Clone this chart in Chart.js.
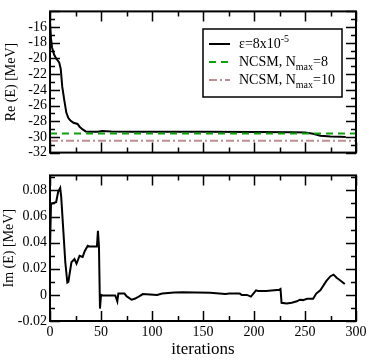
<!DOCTYPE html>
<html>
<head>
<meta charset="utf-8">
<script src="https://cdn.jsdelivr.net/npm/chart.js@4.4.1/dist/chart.umd.min.js"></script>
<style>
    body { margin: 0; background: #fff; }
    #wrap { position: relative; width: 371px; height: 361px; }
    canvas { position: absolute; left: 0; }
    #topChart { top: 0; }
    #botChart { top: 164px; }
</style>
</head>
<body>
<div id="wrap">
    <canvas id="topChart" width="371" height="164"></canvas>
    <canvas id="botChart" width="371" height="197"></canvas>
</div>
<script>
// Re(E) vs iterations, eps = 8x10^-5
const reIter = [0, 1, 2, 4, 6, 9, 10.5, 12, 14, 16, 18, 20, 23, 27, 29, 32, 35, 40, 47, 51, 60, 80, 100, 150, 200, 240, 250, 258, 265, 275, 285, 290];
const reVal = [-15.2, -17.5, -18.6, -19.5, -20.0, -20.5, -21.3, -23.6, -25.3, -26.9, -27.6, -27.9, -28.2, -28.35, -28.7, -29.05, -29.3, -29.35, -29.35, -29.25, -29.3, -29.35, -29.35, -29.35, -29.38, -29.4, -29.45, -29.6, -29.85, -29.95, -29.98, -30.0];

// NCSM reference energies
const ncsmX = [0, 300];
const ncsm8 = [-29.55, -29.55];
const ncsm10 = [-30.5, -30.5];

// Im(E) vs iterations
const imIter = [0, 1, 2, 6, 8, 10, 11, 13, 15, 17, 18, 21, 24, 26, 29, 32, 34, 37, 39, 46, 47, 48, 49, 50, 51, 64, 66, 67, 73, 75, 80, 83, 87, 91, 98, 105, 110, 122, 130, 157, 172, 176, 186, 188, 193, 197, 199, 202, 204, 212, 225, 226, 227, 232, 237, 242, 245, 248, 252, 258, 261, 265, 271, 275, 278, 281, 284, 289];
const imVal = [0.035, 0.07, 0.07, 0.071, 0.079, 0.082, 0.075, 0.05, 0.025, 0.0095, 0.01, 0.025, 0.0275, 0.024, 0.030, 0.029, 0.0335, 0.0376, 0.037, 0.037, 0.049, 0.037, -0.0105, 0.0, -0.0003, -0.0005, -0.005, 0.001, 0.001, -0.001, -0.0037, -0.003, -0.0013, 0.0006, 0.0003, 0.0, 0.001, 0.0018, 0.002, 0.0016, 0.0006, 0.001, 0.001, 0.0, 0.0, -0.0013, 0.0006, 0.0035, 0.003, 0.003, 0.004, 0.0045, -0.0061, -0.0066, -0.006, -0.0049, -0.0037, -0.004, -0.003, -0.003, 0.001, 0.0035, 0.0107, 0.0143, 0.0155, 0.0131, 0.0114, 0.0083];

// tick labels
const xTicks = [0, 50, 100, 150, 200, 250, 300];
const xLabels = ['0', '50', '100', '150', '200', '250', '300'];
const reTicks = [-32, -30, -28, -26, -24, -22, -20, -18, -16];
const reLabels = ['-32', '-30', '-28', '-26', '-24', '-22', '-20', '-18', '-16'];
const imTicks = [-0.02, 0, 0.02, 0.04, 0.06, 0.08];
const imLabels = ['-0.02', '0', '0.02', '0.04', '0.06', '0.08'];

const serif = "'Liberation Serif', 'Times New Roman', serif";
Chart.defaults.font.family = serif;
Chart.defaults.color = '#000';

const pts = (xs, ys) => xs.map((x, i) => ({ x: x, y: ys[i] }));

// frame + inward ticks on all four sides
const frameTicks = {
    id: 'frameTicks',
    afterDraw(chart, args, o) {
        const { ctx, chartArea: a, scales } = chart;
        ctx.save();
        ctx.strokeStyle = '#000';
        ctx.lineWidth = 1.5;
        ctx.beginPath();
        for (let k = 0; k <= o.xCount; k++) {
            const px = Math.round(scales.x.getPixelForValue(k * o.xStep)) + 0.5;
            const len = k % 2 === 0 ? 10 : 5;
            ctx.moveTo(px, a.bottom); ctx.lineTo(px, a.bottom - len);
            ctx.moveTo(px, a.top); ctx.lineTo(px, a.top + len);
        }
        for (let k = 0; k <= o.yCount; k++) {
            const py = Math.round(scales.y.getPixelForValue(o.yStart + k * o.yStep)) + 0.5;
            const len = k % 2 === 0 ? 10 : 5;
            ctx.moveTo(a.left, py); ctx.lineTo(a.left + len, py);
            ctx.moveTo(a.right, py); ctx.lineTo(a.right - len, py);
        }
        ctx.stroke();
        ctx.lineWidth = 2;
        ctx.strokeRect(a.left, a.top, a.right - a.left, a.bottom - a.top);
        ctx.restore();
    }
};

// legend with sub/superscripts
const legendBox = {
    id: 'legendBox',
    afterDraw(chart) {
        const ctx = chart.ctx;
        const x0 = 203, y0 = 29, w = 139, h = 68;
        ctx.save();
        ctx.fillStyle = '#fff';
        ctx.fillRect(x0, y0, w, h);
        ctx.strokeStyle = '#000';
        ctx.lineWidth = 1.5;
        ctx.strokeRect(x0, y0, w, h);
        const rows = [
            { y: 44, color: '#000', dash: [], parts: [['ε=8x10', 0], ['-5', -1]] },
            { y: 62, color: '#10a010', dash: [7, 5], parts: [['NCSM, N', 0], ['max', 1], ['=8', 0]] },
            { y: 80, color: '#bc8f8f', dash: [8, 3, 2, 3], parts: [['NCSM, N', 0], ['max', 1], ['=10', 0]] }
        ];
        rows.forEach(r => {
            ctx.strokeStyle = r.color;
            ctx.lineWidth = 2;
            ctx.setLineDash(r.dash);
            ctx.beginPath();
            ctx.moveTo(209, r.y); ctx.lineTo(230, r.y);
            ctx.stroke();
            ctx.setLineDash([]);
            ctx.fillStyle = '#000';
            ctx.textBaseline = 'middle';
            let tx = 239;
            r.parts.forEach(([t, s]) => {
                ctx.font = (s === 0 ? '14px ' : '10px ') + serif;
                ctx.fillText(t, tx, r.y + s * 5);
                tx += ctx.measureText(t).width;
            });
        });
        ctx.restore();
    }
};

const axisTitle = (text, pad) => ({ display: true, text: text, font: { size: 14 }, padding: pad });

new Chart(document.getElementById('topChart'), {
    type: 'scatter',
    data: {
        datasets: [
            { data: pts(ncsmX, ncsm10), showLine: true, borderColor: '#bc8f8f', borderWidth: 2, borderDash: [8, 3, 2, 3], pointRadius: 0 },
            { data: pts(ncsmX, ncsm8), showLine: true, borderColor: '#10a010', borderWidth: 2, borderDash: [7, 5], pointRadius: 0 },
            { data: pts(reIter, reVal), showLine: true, borderColor: '#000', borderWidth: 2, pointRadius: 0 }
        ]
    },
    options: {
        responsive: false,
        animation: false,
        layout: { padding: { left: 0, right: 15, top: 8, bottom: 2 } },
        scales: {
            x: { type: 'linear', min: 0, max: 300, display: false },
            y: {
                min: -32, max: -14,
                grid: { display: false, drawTicks: false }, border: { display: false },
                afterBuildTicks: s => { s.ticks = reTicks.map(v => ({ value: v })); },
                afterFit: s => { s.width = 50; },
                ticks: { padding: 3, autoSkip: false, font: { size: 14 }, callback: (v, i) => reLabels[i] },
                title: axisTitle('Re (E) [MeV]', { top: 3, bottom: 0 })
            }
        },
        plugins: {
            legend: { display: false }, tooltip: { enabled: false },
            frameTicks: { xStep: 25, xCount: 12, yStart: -32, yStep: 1, yCount: 18 }
        }
    },
    plugins: [frameTicks, legendBox]
});

new Chart(document.getElementById('botChart'), {
    type: 'scatter',
    data: {
        datasets: [
            { data: pts(imIter, imVal), showLine: true, borderColor: '#000', borderWidth: 2, pointRadius: 0 }
        ]
    },
    options: {
        responsive: false,
        animation: false,
        layout: { padding: { left: 0, right: 15, top: 2, bottom: 0 } },
        scales: {
            x: {
                type: 'linear', min: 0, max: 300,
                grid: { display: false, drawTicks: false }, border: { display: false },
                afterBuildTicks: s => { s.ticks = xTicks.map(v => ({ value: v })); },
                afterFit: s => { s.height = 40; },
                ticks: { padding: 3, autoSkip: false, maxRotation: 0, font: { size: 14 }, callback: (v, i) => xLabels[i] },
                title: { display: true, text: 'iterations', font: { size: 17 }, padding: { top: 0, bottom: 1 } }
            },
            y: {
                min: -0.02, max: 0.0915,
                grid: { display: false, drawTicks: false }, border: { display: false },
                afterBuildTicks: s => { s.ticks = imTicks.map(v => ({ value: v })); },
                afterFit: s => { s.width = 50; },
                ticks: { padding: 3, autoSkip: false, font: { size: 14 }, callback: (v, i) => imLabels[i] },
                title: axisTitle('Im (E) [MeV]', { top: 1, bottom: 0 })
            }
        },
        plugins: {
            legend: { display: false }, tooltip: { enabled: false },
            frameTicks: { xStep: 25, xCount: 12, yStart: -0.02, yStep: 0.01, yCount: 11 }
        }
    },
    plugins: [frameTicks]
});
</script>
</body>
</html>
